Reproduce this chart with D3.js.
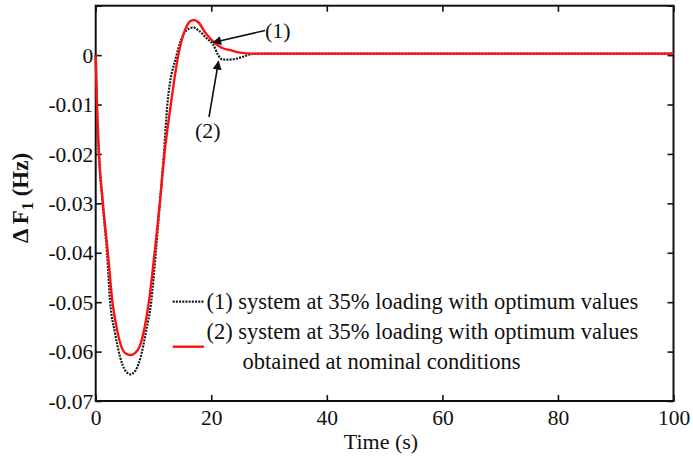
<!DOCTYPE html>
<html>
<head>
<meta charset="utf-8">
<script src="https://cdn.jsdelivr.net/npm/d3@7"></script>
<style>
  html, body { margin: 0; padding: 0; background: #fff; }
  svg { display: block; }
  text { font-family: "Liberation Serif", "Times New Roman", serif; fill: #111; }
</style>
</head>
<body>
<svg id="chart" width="693" height="459"></svg>
<script>
// Frequency deviation of area 1 after a load step (time in s, deviation in Hz)
const timeOptimum = [0, 0.2, 0.55, 1.2, 1.95, 2.5, 3.3, 4.2, 5.1, 6.0, 6.9, 7.8, 8.7, 9.6, 10.4, 11.1, 11.8, 12.4, 14.0, 15.2, 16.2, 16.9, 17.8, 19.2, 20.4, 21.2, 22.0, 23.2, 24.4, 25.6, 26.7, 28.5, 32, 100];
const devOptimum  = [0, -0.01, -0.02, -0.03, -0.04, -0.05, -0.056, -0.061, -0.0638, -0.0646, -0.0638, -0.061, -0.056, -0.05, -0.04, -0.03, -0.02, -0.01, 0, 0.0042, 0.0054, 0.0056, 0.005, 0.0034, 0.002, 0.0, -0.0009, -0.0009, -0.0007, -0.0003, 0.00015, 0.0003, 0.0003, 0.0003];

const timeNominal = [0, 0.22, 0.57, 1.25, 2.1, 2.9, 3.6, 4.5, 5.2, 6.0, 6.8, 7.6, 8.4, 9.2, 10.2, 11.1, 11.9, 13.0, 14.3, 15.5, 16.3, 17.0, 17.8, 19.0, 20.4, 21.8, 23.3, 25, 27, 30, 100];
const devNominal  = [0, -0.01, -0.02, -0.03, -0.04, -0.05, -0.055, -0.0592, -0.0604, -0.0607, -0.0603, -0.059, -0.0555, -0.05, -0.04, -0.03, -0.02, -0.01, 0, 0.0052, 0.0068, 0.0071, 0.0066, 0.0045, 0.0027, 0.0015, 0.001, 0.0005, 0.0003, 0.0003, 0.0003];

const xTicks = [0, 20, 40, 60, 80, 100];
const yTicks = [-0.07, -0.06, -0.05, -0.04, -0.03, -0.02, -0.01, 0, 0.01];
const yTickLabels = ["-0.07", "-0.06", "-0.05", "-0.04", "-0.03", "-0.02", "-0.01", "0", ""];

const legendLines = [
  ["(1) system at 35% loading with optimum values"],
  ["(2) system at 35% loading with optimum values", "obtained at nominal conditions"]
];
const arrowLabels = ["(1)", "(2)"];
const xTitle = "Time (s)";

const svg = d3.select("#chart");
const box = { left: 95.7, right: 673.5, top: 5.7, bottom: 401 };

const x = d3.scaleLinear().domain([0, 100]).range([box.left, box.right]);
const y = d3.scaleLinear().domain([-0.07, 0.01]).range([box.bottom, box.top]);

svg.append("defs").append("marker")
  .attr("id", "head")
  .attr("viewBox", "0 0 10 10")
  .attr("refX", 9).attr("refY", 5)
  .attr("markerWidth", 12).attr("markerHeight", 9)
  .attr("markerUnits", "userSpaceOnUse")
  .attr("orient", "auto")
  .append("path").attr("d", "M0,0 L10,5 L0,10 Z").attr("fill", "#111");

// Axes with inward ticks on all four sides
const tickLen = 6;
const gx = svg.append("g").attr("transform", `translate(0,${box.bottom})`)
  .call(d3.axisBottom(x).tickValues(xTicks).tickSize(-tickLen).tickFormat(d3.format("d")));
const gxTop = svg.append("g").attr("transform", `translate(0,${box.top})`)
  .call(d3.axisTop(x).tickValues(xTicks).tickSize(-tickLen).tickFormat(""));
const gy = svg.append("g").attr("transform", `translate(${box.left},0)`)
  .call(d3.axisLeft(y).tickValues(yTicks).tickSize(-tickLen).tickFormat((d, i) => yTickLabels[i]));
const gyRight = svg.append("g").attr("transform", `translate(${box.right},0)`)
  .call(d3.axisRight(y).tickValues(yTicks).tickSize(-tickLen).tickFormat(""));

[gx, gxTop, gy, gyRight].forEach(g => {
  g.select(".domain").remove();
  g.selectAll(".tick line").attr("stroke", "#111").attr("stroke-width", 1.6);
  g.selectAll(".tick text").attr("font-family", "Liberation Serif").attr("font-size", 21.5).attr("fill", "#111");
});
gx.selectAll(".tick text").attr("dy", "0.71em").attr("y", 9);
gy.selectAll(".tick text").attr("dy", "0.33em").attr("x", -2.5);

// Plot frame
svg.append("rect")
  .attr("x", box.left).attr("y", box.top)
  .attr("width", box.right - box.left).attr("height", box.bottom - box.top)
  .attr("fill", "none").attr("stroke", "#111").attr("stroke-width", 2);

const line = d3.line().x(d => x(d[0])).y(d => y(d[1])).curve(d3.curveMonotoneX);
const optimumPts = timeOptimum.map((t, i) => [t, devOptimum[i]]);
const nominalPts = timeNominal.map((t, i) => [t, devNominal[i]]);

svg.append("path").datum(optimumPts)
  .attr("d", line).attr("fill", "none")
  .attr("stroke", "#1a1a1a").attr("stroke-width", 2.2).attr("stroke-dasharray", "2,1.2");
svg.append("path").datum(nominalPts)
  .attr("d", line).attr("fill", "none")
  .attr("stroke", "#ff1010").attr("stroke-width", 2.4);

// Callout labels and arrows
svg.append("text").attr("x", 265).attr("y", 38).attr("font-size", 22).text(arrowLabels[0]);
svg.append("line").attr("x1", 265).attr("y1", 30.5).attr("x2", 213).attr("y2", 42.5)
  .attr("stroke", "#111").attr("stroke-width", 1.6).attr("marker-end", "url(#head)");
svg.append("text").attr("x", 195).attr("y", 138).attr("font-size", 22).text(arrowLabels[1]);
svg.append("line").attr("x1", 209).attr("y1", 117).attr("x2", 218.5).attr("y2", 61.5)
  .attr("stroke", "#111").attr("stroke-width", 1.6).attr("marker-end", "url(#head)");

// Legend
const lg = svg.append("g");
lg.append("line").attr("x1", 172.7).attr("x2", 204).attr("y1", 301.7).attr("y2", 301.7)
  .attr("stroke", "#1a1a1a").attr("stroke-width", 2.2).attr("stroke-dasharray", "2,1.2");
lg.append("line").attr("x1", 172.7).attr("x2", 204).attr("y1", 346.7).attr("y2", 346.7)
  .attr("stroke", "#ff1010").attr("stroke-width", 2.4);
lg.append("text").attr("x", 206.5).attr("y", 308.5).attr("font-size", 22.5).text(legendLines[0][0]);
lg.append("text").attr("x", 206.5).attr("y", 339).attr("font-size", 22.5).text(legendLines[1][0]);
lg.append("text").attr("x", 242.5).attr("y", 369).attr("font-size", 22.5).text(legendLines[1][1]);

// Axis titles
svg.append("text").attr("x", 381).attr("y", 449).attr("text-anchor", "middle")
  .attr("font-size", 22).text(xTitle);

const yt = svg.append("text")
  .attr("transform", "translate(28,198) rotate(-90)")
  .attr("text-anchor", "middle").attr("font-size", 23).attr("font-weight", "bold");
yt.append("tspan").text("\u0394 F");
yt.append("tspan").attr("font-size", 16).attr("dy", 5).text("1");
yt.append("tspan").attr("dy", -5).text(" (Hz)");
</script>
</body>
</html>
